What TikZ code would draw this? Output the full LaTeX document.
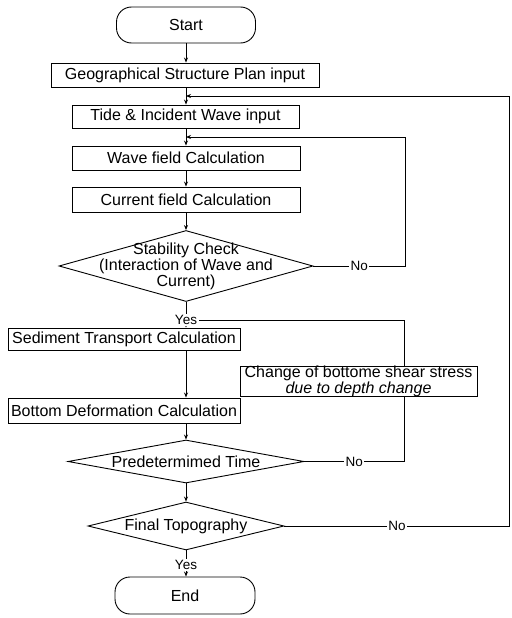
\documentclass[tikz,border=0pt]{standalone}
\usepackage{fontspec}
\setmainfont{Liberation Sans}
\usetikzlibrary{shapes.geometric,arrows.meta}
\begin{document}
\begin{tikzpicture}[x=1pt,y=-1pt,
  every node/.style={font=\fontsize{16}{14}\selectfont},
  line/.style={line width=0.9pt},
  arr/.style={line width=0.9pt,-{Stealth[length=5pt,width=4pt]}},
  box/.style={draw,line width=0.9pt,rectangle,inner sep=0pt,align=center},
  term/.style={draw,line width=0.9pt,rectangle,rounded corners=15pt,inner sep=0pt,align=center},
  dia/.style={draw,line width=0.9pt,diamond,inner sep=0pt},
  dtext/.style={inner sep=0pt,align=center},
  lab/.style={fill=white,inner sep=1.5pt,font=\fontsize{13.5}{14}\selectfont}]
\useasboundingbox (0,0) rectangle (511,618);
% nodes
\node[term,minimum width=139,minimum height=36] (start) at (186,25) {Start};
\node[box,minimum width=268,minimum height=24] (geo) at (185,75) {Geographical Structure Plan input};
\node[box,minimum width=227,minimum height=23] (tide) at (185.5,116.5) {Tide \& Incident Wave input};
\node[box,minimum width=228,minimum height=24] (wave) at (186,158) {Wave field Calculation};
\node[box,minimum width=228,minimum height=25] (cur) at (186,199.5) {Current field Calculation};
\node[dia,minimum width=254,minimum height=71] (stab) at (186,266) {};
\node[dtext] (stabt) at (186,266) {Stability Check\\(Interaction of Wave and\\Current)};
\node[box,minimum width=232,minimum height=22] (sed) at (124,339) {Sediment Transport Calculation};
\node[box,minimum width=237,minimum height=27,font=\fontsize{16}{13.5}\selectfont] (chg) at (358.5,381.5) {Change of bottome shear stress\\\textit{due to depth change}};
\node[box,minimum width=232,minimum height=25] (bd) at (124,410.5) {Bottom Deformation Calculation};
\node[dia,minimum width=236,minimum height=43] (pred) at (186,461.5) {};
\node[dtext] (predt) at (186,461.5) {Predetermimed Time};
\node[dia,minimum width=196,minimum height=48] (fin) at (186,526) {};
\node[dtext] (fint) at (186,526) {Final Topography};
\node[term,minimum width=140,minimum height=37] (end) at (185,595.5) {End};
% junction coordinates
\coordinate (r1) at (509.5,96);
\coordinate (j1) at (186,96);
\coordinate (r2) at (405,137);
\coordinate (j2) at (186,137);
\coordinate (r3) at (404,320);
\coordinate (j3) at (186,320);
% main flow
\draw[arr] (start.south) -- (start.south |- geo.north);
\draw[arr] (j1 |- geo.south) -- (j1 |- tide.north);
\draw[arr] (j2 |- tide.south) -- (j2 |- wave.north);
\draw[arr] (wave.south) -- (cur.north);
\draw[arr] (cur.south) -- (stab.north);
\draw[arr] (stab.south) -- (stab.south |- sed.north);
\draw[arr] (stab.south |- sed.south) -- (stab.south |- bd.north);
\draw[arr] (pred.north |- bd.south) -- (pred.north);
\draw[arr] (pred.south) -- (fin.north);
\draw[arr] (fin.south) -- (fin.south |- end.north);
% loops
\draw[arr] (fin.east) -- node[lab]{No} (fin.east -| r1) -- (r1) -- (j1);
\draw[arr] (stab.east) -- node[lab]{No} (stab.east -| r2) -- (r2) -- (j2);
\draw[line] (pred.east) -- node[lab]{No} (pred.east -| r3) -- (r3 |- chg.south);
\draw[line] (r3 |- chg.north) -- (r3) -- (j3);
% yes labels
\node[lab] (yes1) at (j3) {Yes};
\node[lab] (yes2) at (186,565) {Yes};
\end{tikzpicture}
\end{document}
